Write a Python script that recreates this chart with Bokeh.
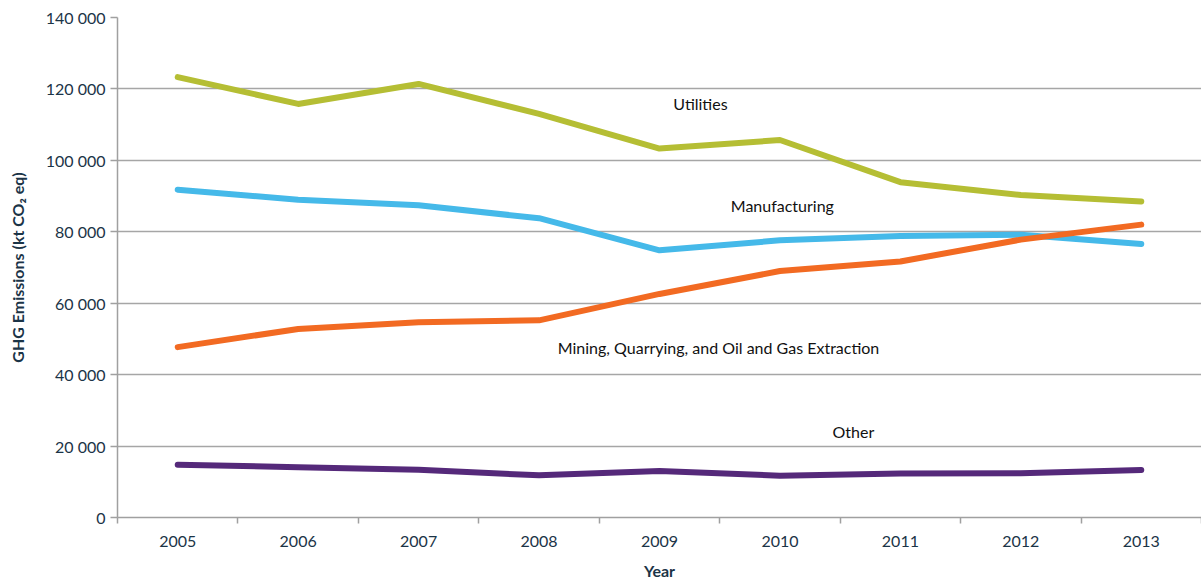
from bokeh.plotting import figure
from bokeh.models import FixedTicker, Range1d, Label
from bokeh.embed import file_html
from bokeh.resources import INLINE

years = ["2005", "2006", "2007", "2008", "2009", "2010", "2011", "2012", "2013"]
utilities = [123300, 115800, 121400, 113000, 103300, 105700, 93900, 90300, 88500]
manufacturing = [91800, 89000, 87400, 83800, 74800, 77600, 78800, 79200, 76600]
mining = [47700, 52800, 54700, 55200, 62600, 69000, 71700, 77800, 82000]
other = [14800, 14100, 13400, 11800, 13000, 11700, 12300, 12400, 13300]
y_ticks = [0, 20000, 40000, 60000, 80000, 100000, 120000, 140000]

series = [
    ("Utilities", utilities, "#b5be34", 4.84, 116000),
    ("Manufacturing", manufacturing, "#45b9e9", 5.52, 87400),
    ("Mining, Quarrying, and Oil and Gas Extraction", mining, "#f26a22", 4.99, 47600),
    ("Other", other, "#55297a", 6.11, 24100),
]

FONT = "Lato"
TXT = "#1b3447"

p = figure(width=1201, height=582, output_backend="svg", toolbar_location=None,
           x_range=Range1d(0, 9), y_range=Range1d(0, 140000),
           min_border_left=117, min_border_right=0, min_border_top=17,
           min_border_bottom=65)
p.outline_line_color = None
p.background_fill_color = "white"
p.border_fill_color = "white"

xs = [i + 0.5 for i in range(len(years))]
for name, vals, col, lx, ly in series:
    p.line(xs, vals, line_color=col, line_width=6, line_cap="round", line_join="round")
    p.add_layout(Label(x=lx, y=ly, text=name, text_align="center", text_baseline="middle",
                       text_font=FONT, text_font_size="16px", text_color="#111111"))

# x axis
p.xaxis.ticker = FixedTicker(ticks=xs, minor_ticks=list(range(len(years) + 1)))
p.xaxis.major_label_overrides = {x: y for x, y in zip(xs, years)}
p.xaxis.major_tick_out = 0
p.xaxis.major_tick_in = 0
p.xaxis.minor_tick_out = 6
p.xaxis.minor_tick_in = 0
p.xaxis.minor_tick_line_color = "#a0a0a0"
p.xaxis.minor_tick_line_width = 1.5
p.xaxis.axis_line_color = "#a0a0a0"
p.xaxis.axis_line_width = 1.5
p.xaxis.major_label_standoff = 12
p.xaxis.axis_label = "Year"
p.xaxis.axis_label_standoff = 11

# y axis
p.yaxis.ticker = FixedTicker(ticks=y_ticks)
p.yaxis.major_label_overrides = {v: f"{v:,}".replace(",", " ") for v in y_ticks}
p.yaxis.major_tick_out = 7
p.yaxis.major_tick_in = 0
p.yaxis.minor_tick_out = 0
p.yaxis.minor_tick_in = 0
p.yaxis.major_tick_line_color = "#a0a0a0"
p.yaxis.major_tick_line_width = 1.5
p.yaxis.axis_line_color = "#a0a0a0"
p.yaxis.axis_line_width = 1.5
p.yaxis.major_label_standoff = 5
p.yaxis.axis_label = "GHG Emissions (kt CO\u2082 eq)"
p.yaxis.axis_label_standoff = 16

for ax in (p.xaxis, p.yaxis):
    ax.major_label_text_font = FONT
    ax.major_label_text_font_size = "16px"
    ax.major_label_text_color = TXT
    ax.axis_label_text_font = FONT
    ax.axis_label_text_font_size = "16px"
    ax.axis_label_text_font_style = "bold"
    ax.axis_label_text_color = TXT

p.xgrid.visible = False
p.ygrid.ticker = FixedTicker(ticks=y_ticks)
p.ygrid.grid_line_color = "#a6a6a6"
p.ygrid.grid_line_width = 1.5

open("out.html", "w").write(file_html(p, INLINE))
